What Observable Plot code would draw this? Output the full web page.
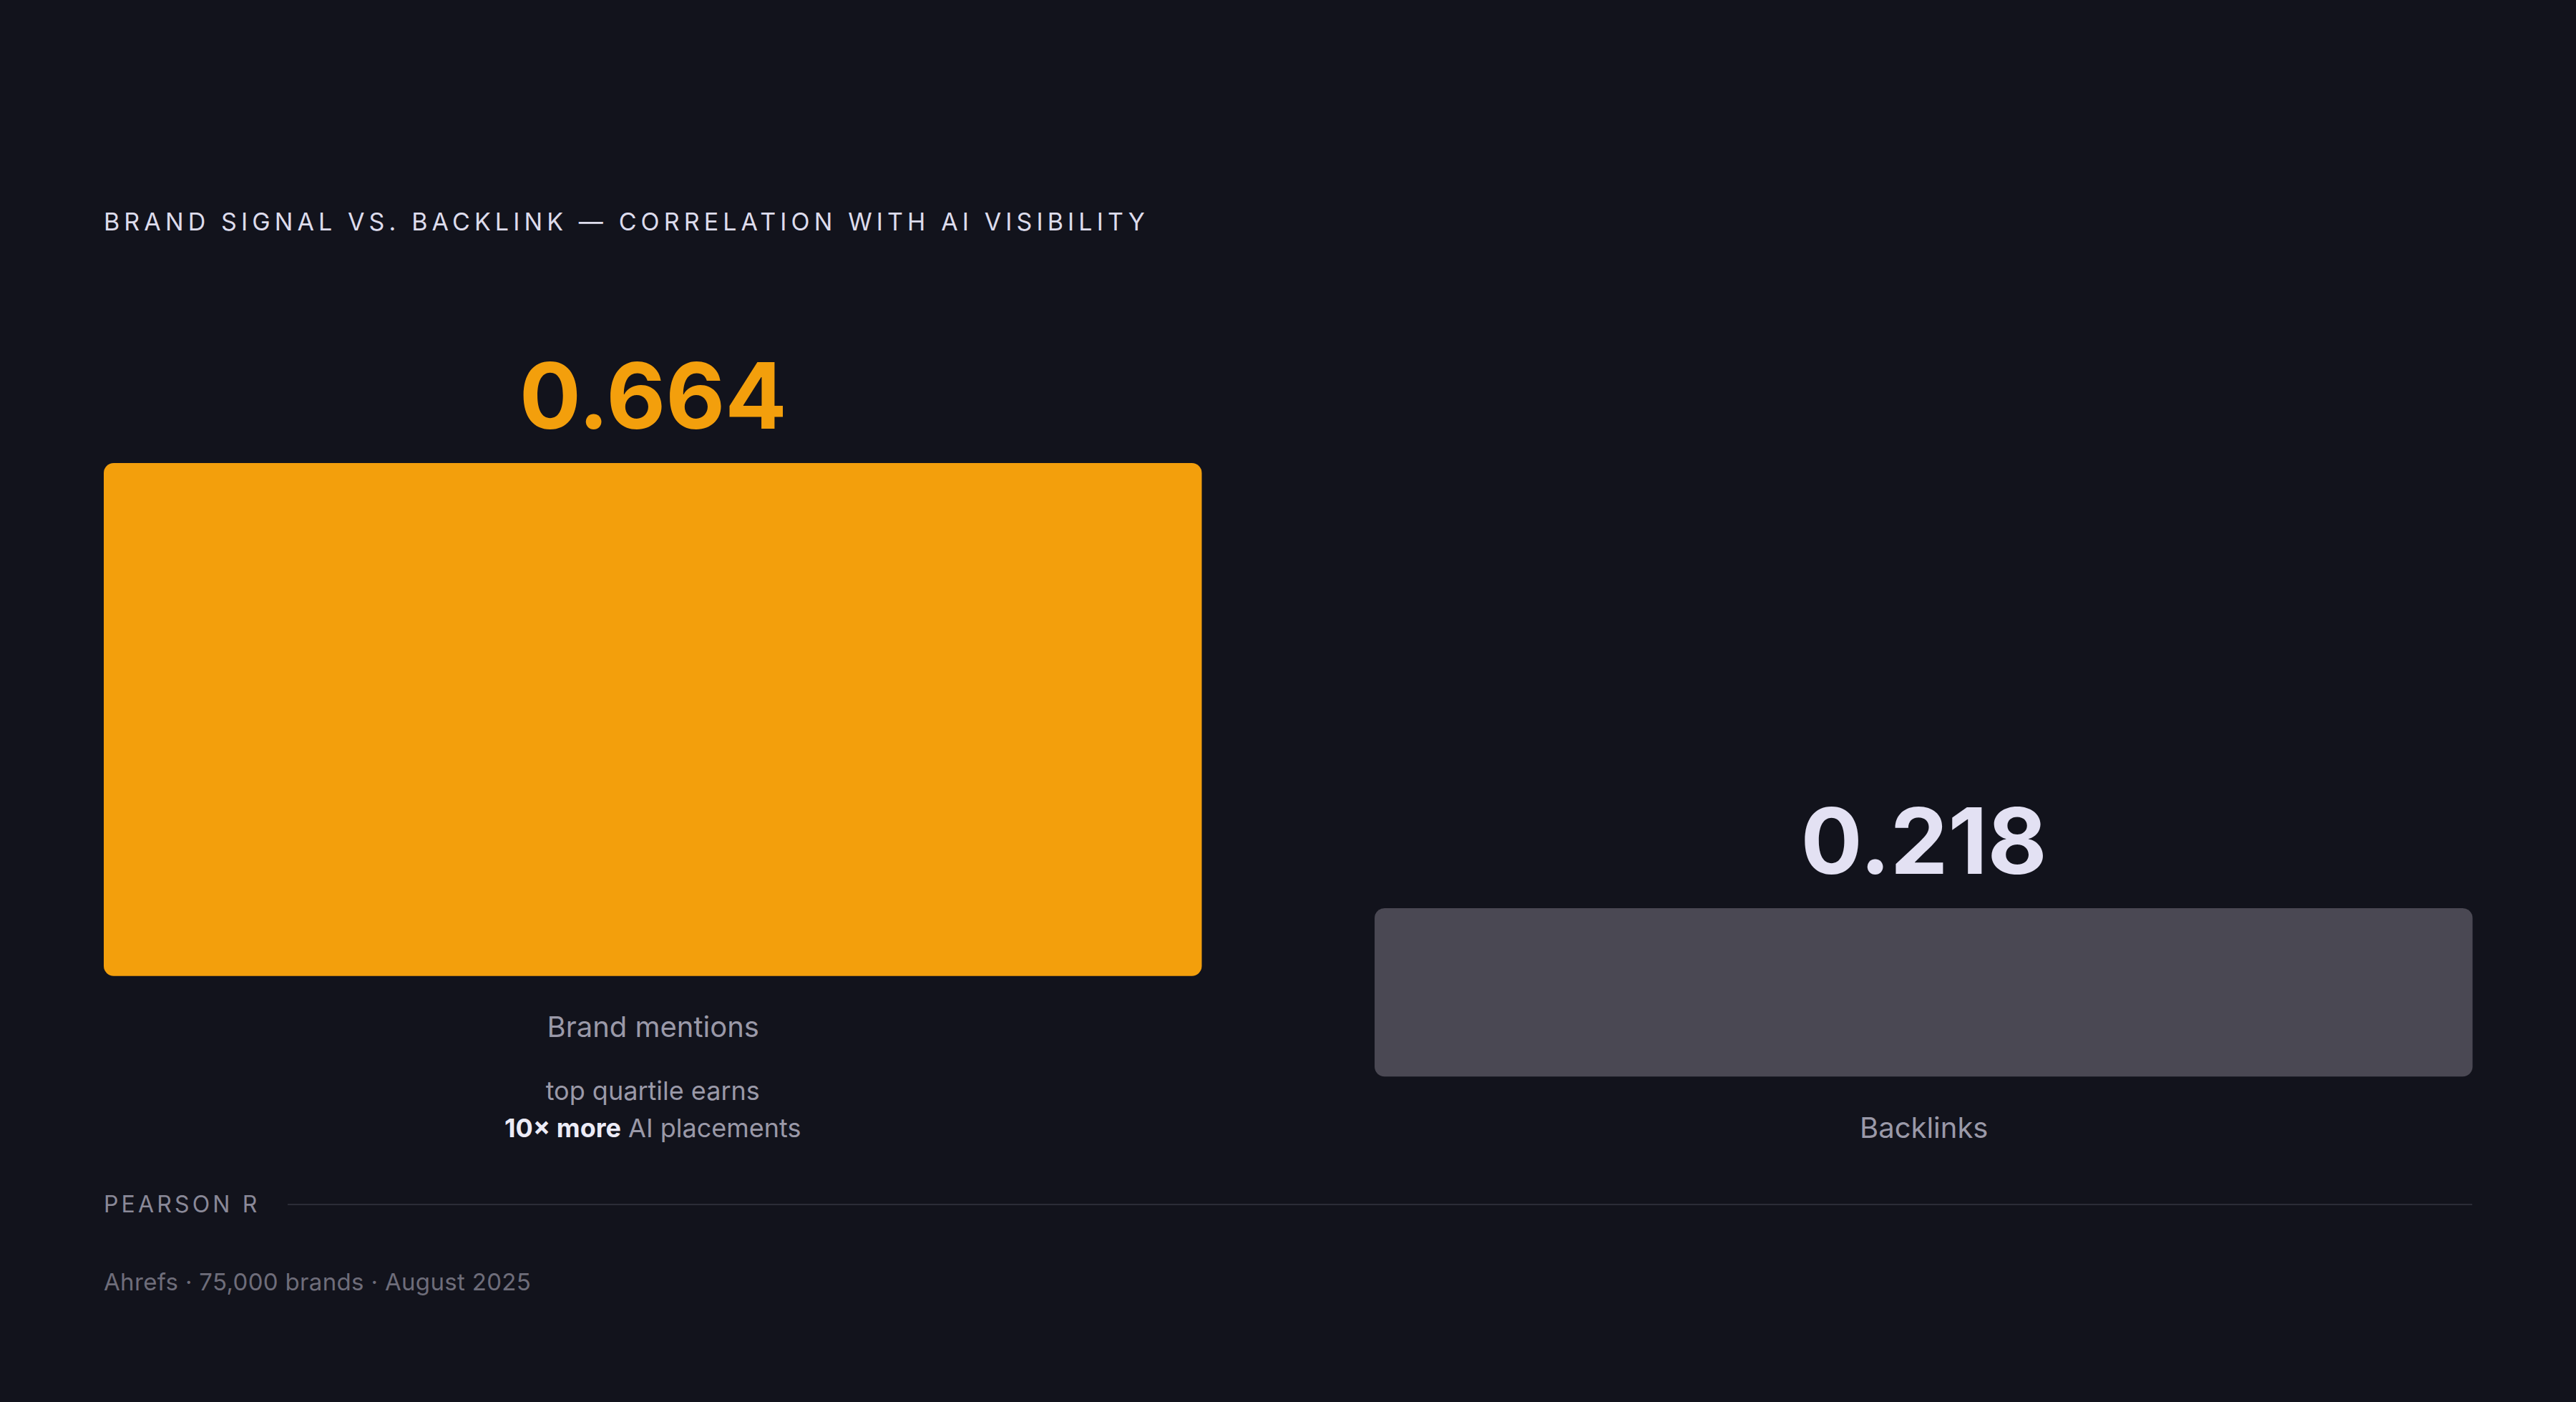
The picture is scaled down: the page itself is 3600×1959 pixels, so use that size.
<!DOCTYPE html>
<html><head><meta charset="utf-8">
<script src="https://cdn.jsdelivr.net/npm/d3@7"></script>
<script src="https://cdn.jsdelivr.net/npm/@observablehq/plot@0.6"></script>
<style>
html,body{margin:0;background:#12131c;}
body{width:3600px;height:1959px;overflow:hidden;font-family:Inter,"DejaVu Sans",sans-serif;}
#wrap{padding:290px 145px 0 145px;}
#title{font-size:34px;line-height:40px;letter-spacing:0.18em;color:#dddcec;white-space:nowrap;}
#row{display:flex;align-items:flex-end;gap:241px;margin-top:147px;}
.col{width:1535px;display:flex;flex-direction:column;align-items:center;}
.col svg{display:block;overflow:visible;}
.note{margin-top:36px;font-size:36px;line-height:52px;color:#9a99a8;text-align:center;}
.note b{color:#ecebf6;font-weight:700;}
#pearson{display:flex;align-items:center;gap:38px;margin-top:61px;height:40px;}
#pearson span{font-size:32px;letter-spacing:0.13em;color:#8a8998;}
#pearson .rule{flex:1;height:2px;background:#2b2c37;}
#foot{margin-top:68px;font-size:33px;line-height:40px;letter-spacing:0.01em;color:#6e6d7a;}
</style></head>
<body>
<div id="wrap">
  <div id="title"></div>
  <div id="row"></div>
  <div id="pearson"><span id="axisName"></span><div class="rule"></div></div>
  <div id="foot"></div>
</div>
<script>
const titleText = "BRAND SIGNAL VS. BACKLINK — CORRELATION WITH AI VISIBILITY";
const categories = ["Brand mentions", "Backlinks"];
const values = [0.664, 0.218];
const barColors = ["#f39f0c", "#4a4853"];
const valueColors = ["#f39f0c", "#e3e1f3"];
const noteLine1 = ["top quartile earns", null];
const noteBold = ["10× more", null];
const noteRest = [" AI placements", null];
const axisName = "PEARSON R";
const footText = "Ahrefs · 75,000 brands · August 2025";

document.getElementById("title").textContent = titleText;
document.getElementById("axisName").textContent = axisName;
document.getElementById("foot").textContent = footText;

const pxPerUnit = 1080;
const row = document.getElementById("row");
categories.forEach((c, i) => {
  const data = [{category: c, value: values[i]}];
  const mt = 170, mb = 98;
  const chart = Plot.plot({
    width: 1535,
    height: mt + mb + values[i] * pxPerUnit,
    marginTop: mt, marginBottom: mb, marginLeft: 0, marginRight: 0,
    x: {domain: [c], padding: 0, axis: null},
    y: {domain: [0, values[i]], axis: null},
    style: {background: "transparent", fontFamily: "Inter, sans-serif", overflow: "visible"},
    marks: [
      Plot.barY(data, {x: "category", y: "value", fill: barColors[i], rx: 14}),
      Plot.text(data, {x: "category", y: "value", text: d => d.value.toFixed(3), dy: -48, lineAnchor: "bottom",
        fontSize: 128, fontWeight: 700, fill: valueColors[i]}),
      Plot.text(data, {x: "category", y: 0, dy: 72, text: "category", lineAnchor: "middle",
        fontSize: 40, fill: "#9a99a8"})
    ]
  });
  const col = document.createElement("div");
  col.className = "col";
  col.appendChild(chart);
  if (noteLine1[i]) {
    const n = document.createElement("div");
    n.className = "note";
    const l1 = document.createElement("div"); l1.textContent = noteLine1[i];
    const l2 = document.createElement("div");
    const b = document.createElement("b"); b.textContent = noteBold[i];
    l2.appendChild(b); l2.appendChild(document.createTextNode(noteRest[i]));
    n.appendChild(l1); n.appendChild(l2);
    col.appendChild(n);
  }
  row.appendChild(col);
});
</script>
</body></html>
